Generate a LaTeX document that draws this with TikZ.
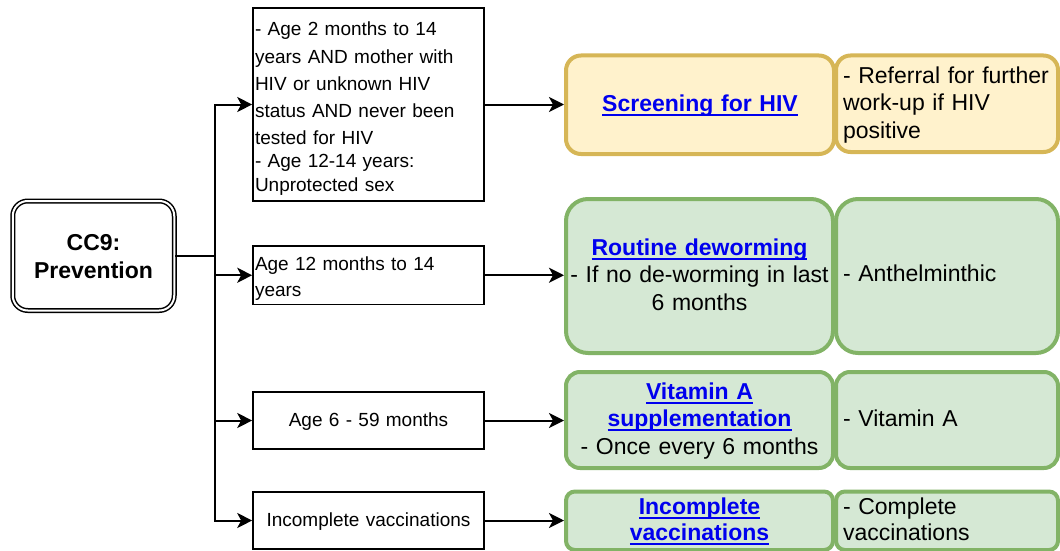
\documentclass[tikz,border=0pt]{standalone}
\usepackage{fontspec}
\setmainfont{Liberation Sans}
\usetikzlibrary{arrows.meta}

\definecolor{hivfill}{HTML}{FFF2CC}
\definecolor{hivline}{HTML}{D6B656}
\definecolor{grnfill}{HTML}{D5E8D4}
\definecolor{grnline}{HTML}{82B366}
\definecolor{lnkblue}{HTML}{0000EE}

% bold blue underlined link text
\newcommand\lnk[1]{\leavevmode{\color{lnkblue}\bfseries\setbox0=\hbox{#1}\rlap{\rule[-4.5pt]{\wd0}{2pt}}\box0}}
% struts fixing the height of the first line and the depth of the last one
\newcommand\firstln[1]{\rule{0pt}{#1pt}}
\newcommand\lastln{\rule[-6pt]{0pt}{6pt}}

\tikzset{
  x=1pt, y=-1pt,
  cond/.style={draw, line width=1.6pt, rectangle, inner sep=0pt, inner xsep=2pt,
    font=\fontsize{19}{27}\selectfont},
  act/.style={line width=4pt, rectangle, inner sep=0pt, inner xsep=2pt,
    text width=263pt, align=center, font=\fontsize{23}{27.8}\selectfont},
  note/.style={line width=4pt, rectangle, inner sep=0pt, inner xsep=7pt,
    text width=208pt, align=left, minimum width=222pt,
    font=\fontsize{23}{27.5}\selectfont},
  hiv/.style={draw=hivline, fill=hivfill},
  grn/.style={draw=grnline, fill=grnfill},
  conn/.style={line width=2pt, -{Stealth[length=15pt,width=15pt,inset=4pt]}},
}

\begin{document}
\begin{tikzpicture}
\useasboundingbox (0,0) rectangle (1060,551);

% root
\node[draw, double, double distance=2pt, line width=1.5pt, rounded corners=15pt,
  minimum width=161.5pt, minimum height=109.5pt, inner sep=0pt, align=center,
  font=\fontsize{23}{28.3}\selectfont\bfseries] (cc9) at (93.5,255.75)
  {\firstln{22.8}CC9:\\Prevention\lastln};

% conditions
\node[cond, text width=227pt, align=left, minimum width=231pt, minimum height=193pt,
  font=\fontsize{19}{27.25}\selectfont] (b1) at (368.5,104.5)
  {\firstln{25}- Age 2 months to 14\\years AND mother with\\HIV or unknown HIV\\status AND never been\\tested for HIV\\[-4.25pt]- Age 12-14 years:\\[-3.25pt]Unprotected sex\lastln};
\node[cond, text width=227pt, align=left, minimum width=231pt, minimum height=58.5pt,
  font=\fontsize{19}{26.7}\selectfont] (b2) at (368.5,275.25)
  {\firstln{22.2}Age 12 months to 14\\years\lastln};
\node[cond, text width=227pt, align=center, minimum width=231pt, minimum height=57.5pt]
  (b3) at (368.5,420.5) {\firstln{18.4}Age 6 - 59 months\lastln};
\node[cond, text width=227pt, align=center, minimum width=231pt, minimum height=57.5pt]
  (b4) at (368.5,520.5) {\firstln{18.4}Incomplete vaccinations\lastln};

% actions
\node[act, hiv, rounded corners=15pt, minimum width=268pt, minimum height=98.5pt]
  (scr) at (700,104.75) {\firstln{18.5}\lnk{Screening for HIV}\lastln};
\node[note, hiv, rounded corners=14.5pt, minimum height=96.5pt]
  (ref) at (947,103.75) {\firstln{20.1}- Referral for further\\work-up if HIV\\positive\lastln};

\node[act, grn, rounded corners=22pt, minimum width=267pt, minimum height=154pt]
  (dew) at (699.5,276) {\firstln{19.7}\lnk{Routine deworming}\\- If no de-worming in last\\6 months\lastln};
\node[note, grn, rounded corners=22pt, minimum height=154pt]
  (anth) at (947,276) {\firstln{17.4}- Anthelminthic\lastln};

\node[act, grn, rounded corners=14pt, minimum width=267pt, minimum height=96pt]
  (vit) at (699.5,420) {\firstln{19.6}\lnk{Vitamin A}\\\lnk{supplementation}\\- Once every 6 months\lastln};
\node[note, grn, rounded corners=14pt, minimum height=96pt]
  (vita) at (947,420) {\firstln{19.4}- Vitamin A\lastln};

\node[act, grn, rounded corners=9pt, minimum width=267pt, minimum height=58.5pt,
  font=\fontsize{23}{26.7}\selectfont]
  (vac) at (699.5,520.75) {\firstln{19.2}\lnk{Incomplete}\\\lnk{vaccinations}\lastln};
\node[note, grn, rounded corners=9pt, minimum height=58.5pt,
  font=\fontsize{23}{26.7}\selectfont]
  (cvac) at (947,520.75) {\firstln{19.2}- Complete\\vaccinations\lastln};

% branching connectors
\coordinate (jn) at (215,255.75);
\draw[conn] (cc9.east) -- (jn) |- (b1.west);
\draw[conn] (cc9.east) -- (jn) |- (b2.west);
\draw[conn] (cc9.east) -- (jn) |- (b3.west);
\draw[conn] (cc9.east) -- (jn) |- (b4.west);

\draw[conn] (b1.east) -- (b1.east -| scr.west);
\draw[conn] (b2.east) -- (b2.east -| dew.west);
\draw[conn] (b3.east) -- (b3.east -| vit.west);
\draw[conn] (b4.east) -- (b4.east -| vac.west);
\end{tikzpicture}
\end{document}
